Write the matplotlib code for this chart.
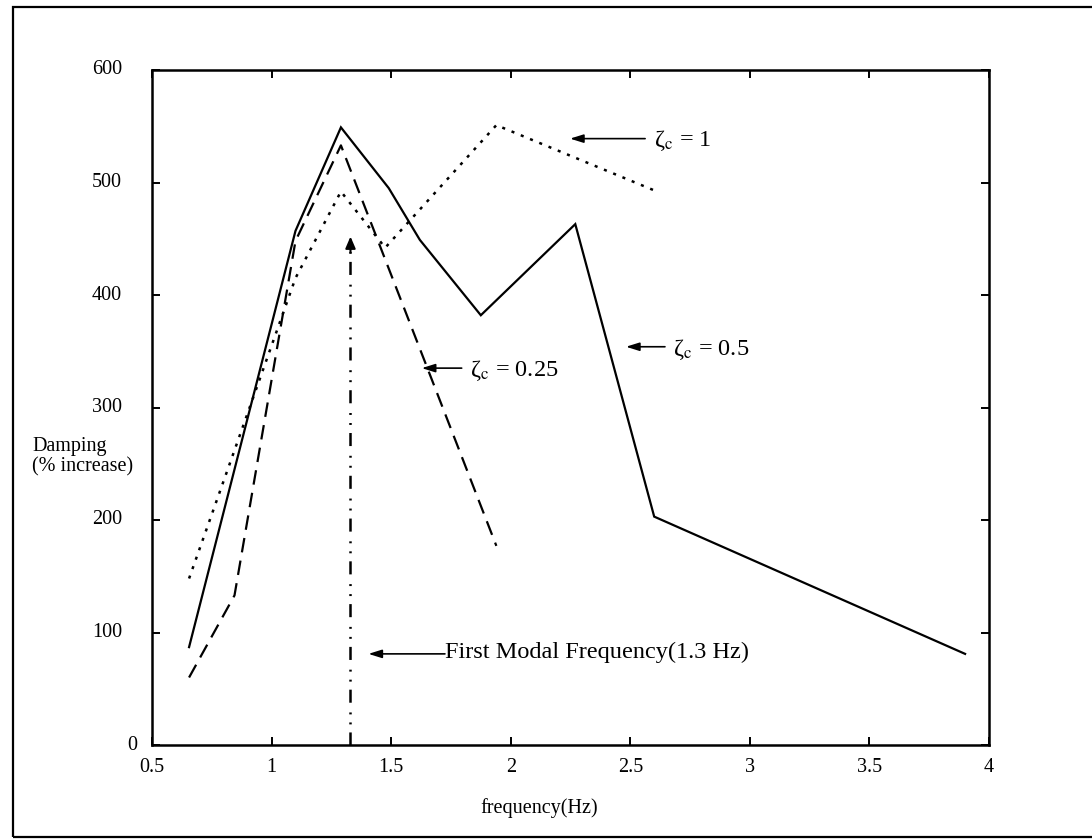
import matplotlib
matplotlib.use("Agg")
import matplotlib.pyplot as plt
from matplotlib.patches import Rectangle

plt.rcParams['font.family'] = ['Liberation Serif', 'DejaVu Serif']
plt.rcParams['mathtext.fontset'] = 'stix'
plt.rcParams['lines.scale_dashes'] = False

# damping increase vs frequency
freq_05 = [0.655, 1.10, 1.29, 1.49, 1.62, 1.875, 2.27, 2.60, 3.90]
damp_05 = [87, 457, 549, 495, 449, 382, 463, 203, 81]

freq_025 = [0.655, 0.845, 1.10, 1.29, 1.94]
damp_025 = [60, 133, 448, 533, 177]

freq_1 = [0.655, 1.10, 1.29, 1.475, 1.94, 2.60]
damp_1 = [148, 415, 492, 442, 551, 493]

modal_freq = 1.33
modal_top = 452

x_ticks = [0.5, 1, 1.5, 2, 2.5, 3, 3.5, 4]
x_labels = ['0.5', '1', '1.5', '2', '2.5', '3', '3.5', '4']
y_ticks = [0, 100, 200, 300, 400, 500, 600]
y_labels = ['0', '100', '200', '300', '400', '500', '600']

fig = plt.figure(figsize=(10.92, 8.39), dpi=100)
ax = fig.add_axes([152/1092, 94/839, 837/1092, 675/839])

ax.plot(freq_05, damp_05, color='black', lw=1.6, solid_joinstyle='miter')
ax.plot(freq_025, damp_025, color='black', lw=1.6, dashes=(10.5, 6))
ax.plot(freq_1, damp_1, color='black', lw=1.8, dashes=(2.2, 5))

# first modal frequency marker
ax.plot([modal_freq, modal_freq], [0, modal_top - 12], color='black', lw=1.8,
        dashes=(9.4, 5.8, 1.4, 5.8, 1.4, 7))
ax.annotate('', xy=(modal_freq, modal_top), xytext=(modal_freq, modal_top - 14),
            arrowprops=dict(arrowstyle='-|>,head_length=0.7,head_width=0.3',
                            color='black', lw=1.5, shrinkA=0, shrinkB=0))

arrow_style = dict(arrowstyle='-|>,head_length=0.8,head_width=0.25',
                   color='black', lw=1.2, shrinkA=0, shrinkB=0)
note_size = 17.5

ax.annotate('', xy=(2.248, 539), xytext=(2.562, 539), arrowprops=arrow_style)
ax.text(2.60, 537, r'ζ$_{\mathrm{c}}$ = 1', fontsize=note_size, ha='left', va='center')

ax.annotate('', xy=(2.482, 354), xytext=(2.645, 354), arrowprops=arrow_style)
ax.text(2.68, 352, r'ζ$_{\mathrm{c}}$ = 0.5', fontsize=note_size, ha='left', va='center')

ax.annotate('', xy=(1.628, 335), xytext=(1.795, 335), arrowprops=arrow_style)
ax.text(1.83, 333, r'ζ$_{\mathrm{c}}$ = 0.25', fontsize=note_size, ha='left', va='center')

ax.annotate('', xy=(1.405, 81), xytext=(1.725, 81), arrowprops=arrow_style)
ax.text(1.725, 82, 'First Modal Frequency(1.3 Hz)', fontsize=note_size, ha='left', va='center')

ax.set_xlim(0.5, 4)
ax.set_ylim(0, 600)
ax.set_xticks(x_ticks)
ax.set_xticklabels(x_labels, fontsize=14.5)
ax.set_yticks(y_ticks)
ax.set_yticklabels([])
for v, lab in zip(y_ticks, y_labels):
    xpos = -0.018 if v == 0 else -0.036
    ax.text(xpos, v, lab, transform=ax.get_yaxis_transform(), fontsize=14.5,
            ha='right', va='center')

ax.tick_params(direction='in', length=6, width=1.4, top=True, right=True, pad=9)
for sp in ax.spines.values():
    sp.set_linewidth(1.8)

ax.set_xlabel('frequency(Hz)', fontsize=14.5)
ax.xaxis.set_label_coords(0.462, -0.079)
ax.set_ylabel('Damping\n(% increase)', fontsize=14.5, rotation=0, ha='left',
              va='center', linespacing=1.1)
ax.yaxis.set_label_coords(-0.1434, 0.427)

fig.patches.append(Rectangle((13/1092, 2/839), 1.2, 830/839, transform=fig.transFigure,
                             fill=False, lw=1.6, edgecolor='black'))

fig.savefig('out.png', dpi=100)
